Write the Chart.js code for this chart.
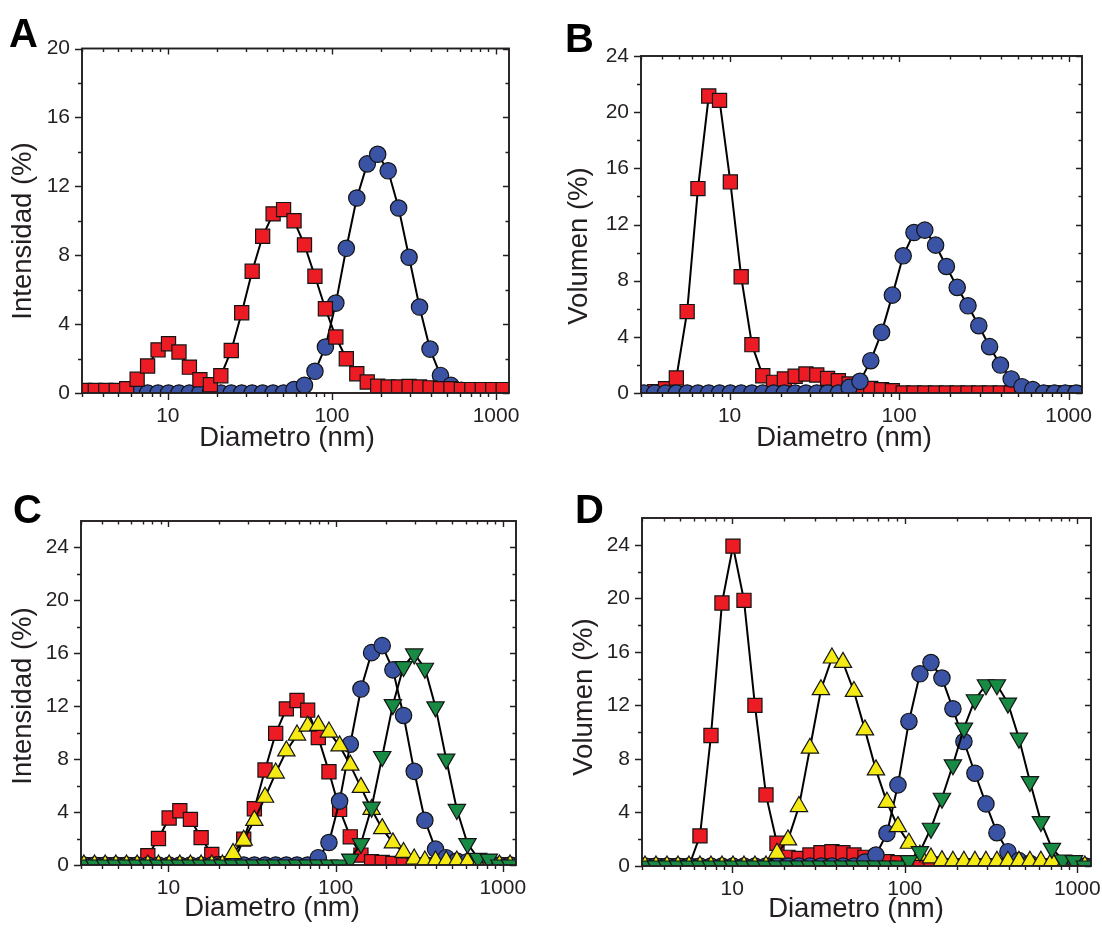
<!DOCTYPE html>
<html>
<head>
<meta charset="utf-8">
<title>Distribución de tamaño</title>
<script src="https://cdn.jsdelivr.net/npm/chart.js@4.4.1/dist/chart.umd.min.js"></script>
<style>
    html, body { margin: 0; padding: 0; background: #fff; overflow: hidden; }
    body { width: 1102px; height: 929px; position: relative; }
    canvas { position: absolute; }
</style>
</head>
<body>
<canvas id="chartA" width="551" height="465" style="left:0px;top:0px"></canvas>
<canvas id="chartB" width="571" height="465" style="left:551px;top:0px"></canvas>
<canvas id="chartC" width="551" height="464" style="left:0px;top:465px"></canvas>
<canvas id="chartD" width="571" height="464" style="left:551px;top:465px"></canvas>
<script>
// diametros de medida (nm)
const diameters = [3.122, 3.615, 4.187, 4.849, 5.615, 6.503, 7.531, 8.721, 10.10, 11.70,
    13.54, 15.69, 18.17, 21.04, 24.36, 28.21, 32.67, 37.84, 43.82, 50.75,
    58.77, 68.06, 78.82, 91.28, 105.7, 122.4, 141.8, 164.2, 190.1, 220.2,
    255.0, 295.3, 342.0, 396.1, 458.7, 531.2, 615.1, 712.4, 825.0, 955.4, 1106];

// A - intensidad
const intensityA_red = [0.15, 0.15, 0.15, 0.15, 0.25, 0.8, 1.57, 2.5, 2.86, 2.38,
    1.5, 0.77, 0.48, 1.0, 2.47, 4.66, 7.07, 9.1, 10.4, 10.65,
    10.0, 8.6, 6.78, 4.89, 3.25, 1.99, 1.12, 0.64, 0.4, 0.35,
    0.35, 0.38, 0.35, 0.3, 0.25, 0.25, 0.2, 0.2, 0.2, 0.2, 0.2];
const intensityA_blue = [0, 0, 0, 0, 0, 0, 0, 0, 0, 0,
    0, 0, 0, 0, 0, 0, 0, 0, 0, 0,
    0.2, 0.45, 1.26, 2.67, 5.22, 8.4, 11.32, 13.3, 13.86, 12.9,
    10.74, 7.88, 4.99, 2.55, 1.02, 0.44, 0.15, 0, 0, 0, 0];

// B - volumen
const volumeB_red = [0, 0.1, 0.3, 1.07, 5.8, 14.56, 21.15, 20.84, 15.03, 8.28,
    3.44, 1.23, 0.76, 1.0, 1.19, 1.35, 1.28, 1.04, 0.88, 0.64,
    0.47, 0.33, 0.24, 0.17, 0, 0, 0, 0, 0, 0,
    0, 0, 0, 0, 0, 0, 0, 0, 0, 0, 0];
const volumeB_blue = [0, 0, 0, 0, 0, 0, 0, 0, 0, 0,
    0, 0, 0, 0, 0, 0, 0, 0, 0, 0.4,
    0.83, 2.3, 4.32, 6.97, 9.77, 11.43, 11.6, 10.53, 9.01, 7.52,
    6.21, 4.79, 3.3, 1.99, 1.0, 0.45, 0.24, 0, 0, 0, 0];

// C - intensidad
const intensityC_red = [0, 0, 0, 0, 0, 0, 0.7, 2.0, 3.55, 4.1,
    3.45, 2.07, 0.8, 0.1, 0.1, 1.95, 4.25, 7.18, 9.95, 11.8,
    12.43, 11.7, 9.63, 7.05, 4.2, 2.13, 0.75, 0.25, 0.2, 0.12,
    0, 0, 0, 0, 0, 0, 0, 0, 0, 0, 0];
const intensityC_yellow = [0, 0, 0, 0, 0, 0, 0, 0, 0, 0,
    0, 0, 0, 0, 0.87, 1.87, 3.37, 5.12, 6.95, 8.62,
    9.82, 10.5, 10.55, 10.05, 9.0, 7.55, 5.87, 4.2, 2.75, 1.67,
    0.95, 0.45, 0.3, 0.3, 0.3, 0.3, 0.25, 0, 0, 0, 0];
const intensityC_blue = [0, 0, 0, 0, 0, 0, 0, 0, 0, 0,
    0, 0, 0, 0, 0, 0, 0, 0, 0, 0,
    0, 0, 0.55, 1.7, 4.83, 9.13, 13.3, 16.05, 16.58, 14.75,
    11.3, 7.08, 3.38, 1.2, 0.55, 0.3, 0.25, 0, 0, 0, 0];
const intensityC_green = [0, 0, 0, 0, 0, 0, 0, 0, 0, 0,
    0, 0, 0, 0, 0, 0, 0, 0, 0, 0,
    0, 0, 0, 0, 0, 0.45, 1.62, 4.37, 8.2, 12.12,
    15.0, 15.95, 14.87, 11.95, 8.0, 4.2, 1.62, 0.5, 0.45, 0, 0];

// D - volumen
const volumeD_red = [0, 0, 0, 0, 0, 2.25, 9.75, 19.65, 23.9, 19.85,
    12.0, 5.31, 1.7, 0.65, 0.57, 0.82, 1.0, 1.07, 1.0, 0.82,
    0.65, 0.45, 0.32, 0.25, 0.15, 0.15, 0.15, 0, 0, 0,
    0, 0, 0, 0, 0, 0, 0, 0, 0, 0, 0];
const volumeD_yellow = [0, 0, 0, 0, 0, 0, 0, 0, 0, 0,
    0, 0, 0.95, 1.95, 4.44, 8.8, 13.17, 15.54, 15.21, 13.04,
    10.17, 7.18, 4.76, 2.94, 1.7, 0.8, 0.6, 0.4, 0.35, 0.35,
    0.35, 0.35, 0.35, 0.35, 0.35, 0.35, 0.35, 0.35, 0, 0, 0];
const volumeD_blue = [0, 0, 0, 0, 0, 0, 0, 0, 0, 0,
    0, 0, 0, 0, 0, 0, 0, 0, 0, 0,
    0.3, 0.82, 2.44, 6.06, 10.8, 14.36, 15.2, 14.04, 11.75, 9.3,
    6.93, 4.64, 2.49, 1.07, 0.4, 0.2, 0, 0, 0, 0, 0];
const volumeD_green = [0, 0, 0, 0, 0, 0, 0, 0, 0, 0,
    0, 0, 0, 0, 0, 0, 0, 0, 0, 0,
    0, 0, 0, 0, 0.4, 1.07, 2.82, 5.06, 7.56, 10.3,
    12.42, 13.54, 13.54, 12.17, 9.55, 6.31, 3.32, 1.32, 0.45, 0.4, 0];

// ejes
const xMajorTicks = [10, 100, 1000];
const xTickLabels = ['10', '100', '1000'];
const xMinorTicks = [3, 4, 5, 6, 7, 8, 9, 20, 30, 40, 50, 60, 70, 80, 90,
    200, 300, 400, 500, 600, 700, 800, 900];
const yTicksA = [0, 4, 8, 12, 16, 20];
const yMinorA = [2, 6, 10, 14, 18];
const yTicksB = [0, 4, 8, 12, 16, 20, 24];
const yMinorB = [2, 6, 10, 14, 18, 22];

const inkColor = '#231f20';
const fontFamily = '"Liberation Sans", Arial, sans-serif';

const markerStyles = {
    square: { pointStyle: 'rect', radius: 10, rotation: 0, color: '#ed1c24' },
    circle: { pointStyle: 'circle', radius: 8.2, rotation: 0, color: '#3a53a4' },
    up: { pointStyle: 'triangle', radius: 10, rotation: 0, color: '#f5ea14' },
    down: { pointStyle: 'triangle', radius: 10, rotation: 180, color: '#178a43' }
};

const panels = [
    {
        id: 'chartA', letter: 'A', left: 0, top: 0, width: 551, height: 465,
        area: { left: 82, top: 48.5, right: 509, bottom: 393 },
        yMax: 20, yTicks: yTicksA, yMinor: yMinorA,
        yTitle: 'Intensidad (%)', yTitlePos: [23, 231], xTitlePos: [287, 438], letterPos: [9, 47],
        series: [
            { values: intensityA_red, marker: 'square', order: 0 },
            { values: intensityA_blue, marker: 'circle', order: 1 }
        ]
    },
    {
        id: 'chartB', letter: 'B', left: 551, top: 0, width: 571, height: 465,
        area: { left: 641, top: 56, right: 1082, bottom: 393 },
        yMax: 24, yTicks: yTicksB, yMinor: yMinorB,
        yTitle: 'Volumen (%)', yTitlePos: [579, 246], xTitlePos: [844, 438], letterPos: [565, 52],
        series: [
            { values: volumeB_red, marker: 'square', order: 1 },
            { values: volumeB_blue, marker: 'circle', order: 0 }
        ]
    },
    {
        id: 'chartC', letter: 'C', left: 0, top: 465, width: 551, height: 464,
        area: { left: 81, top: 521, right: 516, bottom: 865 },
        yMax: 26, yTicks: yTicksB, yMinor: yMinorB,
        yTitle: 'Intensidad (%)', yTitlePos: [23.5, 696], xTitlePos: [272, 908], letterPos: [13, 523],
        series: [
            { values: intensityC_red, marker: 'square', order: 3 },
            { values: intensityC_blue, marker: 'circle', order: 2 },
            { values: intensityC_yellow, marker: 'up', order: 1 },
            { values: intensityC_green, marker: 'down', order: 0 }
        ]
    },
    {
        id: 'chartD', letter: 'D', left: 551, top: 465, width: 571, height: 464,
        area: { left: 642, top: 518, right: 1091, bottom: 866 },
        yMax: 26, yTicks: yTicksB, yMinor: yMinorB,
        yTitle: 'Volumen (%)', yTitlePos: [584, 697], xTitlePos: [856, 909], letterPos: [575, 523],
        series: [
            { values: volumeD_red, marker: 'square', order: 3 },
            { values: volumeD_blue, marker: 'circle', order: 2 },
            { values: volumeD_yellow, marker: 'up', order: 1 },
            { values: volumeD_green, marker: 'down', order: 0 }
        ]
    }
];

// marco, marcas de ejes, titulos y letra del panel
const framePlugin = {
    id: 'frame',
    afterDatasetsDraw(chart, args, opts) {
        const ctx = chart.ctx;
        const area = chart.chartArea;
        const xScale = chart.scales.x;
        const yScale = chart.scales.y;

        ctx.save();
        ctx.strokeStyle = inkColor;
        ctx.lineWidth = 1.4;
        ctx.beginPath();

        const xTick = (value, outLen, inLen) => {
            const px = Math.round(xScale.getPixelForValue(value)) + 0.5;
            ctx.moveTo(px, area.bottom);
            ctx.lineTo(px, area.bottom + outLen);
            ctx.moveTo(px, area.top);
            ctx.lineTo(px, area.top + inLen);
        };
        const yTick = (value, outLen, inLen) => {
            const py = Math.round(yScale.getPixelForValue(value)) + 0.5;
            ctx.moveTo(area.left, py);
            ctx.lineTo(area.left - outLen, py);
            ctx.moveTo(area.right, py);
            ctx.lineTo(area.right - inLen, py);
        };

        xMajorTicks.forEach(v => xTick(v, 7, 6));
        xMinorTicks.forEach(v => xTick(v, 4, 3.5));
        opts.yTicks.forEach(v => yTick(v, 7, 6));
        opts.yMinor.forEach(v => yTick(v, 4, 3.5));
        ctx.stroke();

        ctx.lineWidth = 1.9;
        ctx.strokeRect(area.left, area.top, area.right - area.left, area.bottom - area.top);
        ctx.restore();
    },
    afterDraw(chart, args, opts) {
        const ctx = chart.ctx;

        ctx.save();
        ctx.fillStyle = inkColor;
        ctx.textAlign = 'center';
        ctx.textBaseline = 'middle';
        ctx.font = '27.5px ' + fontFamily;
        ctx.fillText('Diametro (nm)', opts.xTitlePos[0], opts.xTitlePos[1]);

        ctx.save();
        ctx.translate(opts.yTitlePos[0], opts.yTitlePos[1]);
        ctx.rotate(-Math.PI / 2);
        ctx.fillText(opts.yTitle, 0, 0);
        ctx.restore();

        ctx.fillStyle = '#000';
        ctx.textAlign = 'left';
        ctx.textBaseline = 'alphabetic';
        ctx.font = 'bold 40px ' + fontFamily;
        ctx.fillText(opts.letter, opts.letterPos[0], opts.letterPos[1]);
        ctx.restore();
    }
};

function buildDataset(serie) {
    const style = markerStyles[serie.marker];

    return {
        data: diameters.map((d, i) => ({ x: d, y: serie.values[i] })),
        showLine: true,
        borderColor: '#000',
        borderWidth: 2,
        tension: 0,
        pointStyle: style.pointStyle,
        pointRotation: style.rotation,
        pointRadius: style.radius,
        pointHoverRadius: style.radius,
        pointBackgroundColor: style.color,
        pointBorderColor: '#141414',
        pointBorderWidth: 1.2,
        clip: 0,
        order: serie.order
    };
}

function initPanel(panel) {
    const canvas = document.getElementById(panel.id);

    if (!canvas) {
        return;
    }

    // coordenadas de pagina -> coordenadas del lienzo
    const area = {
        left: panel.area.left - panel.left,
        top: panel.area.top - panel.top,
        right: panel.area.right - panel.left,
        bottom: panel.area.bottom - panel.top
    };
    const rel = (pos) => [pos[0] - panel.left, pos[1] - panel.top];

    new Chart(canvas.getContext('2d'), {
        type: 'scatter',
        data: {
            datasets: panel.series.map(buildDataset)
        },
        options: {
            responsive: false,
            animation: false,
            events: [],
            layout: {
                padding: { left: 0, top: area.top, right: panel.width - area.right, bottom: 0 }
            },
            plugins: {
                legend: { display: false },
                tooltip: { enabled: false },
                frame: {
                    letter: panel.letter,
                    letterPos: rel(panel.letterPos),
                    yTitle: panel.yTitle,
                    yTitlePos: rel(panel.yTitlePos),
                    xTitlePos: rel(panel.xTitlePos),
                    yTicks: panel.yTicks,
                    yMinor: panel.yMinor
                }
            },
            scales: {
                x: {
                    type: 'logarithmic',
                    min: 3,
                    max: 1200,
                    afterBuildTicks: (scale) => {
                        scale.ticks = xMajorTicks.map(v => ({ value: v }));
                    },
                    afterFit: (scale) => {
                        scale.height = panel.height - area.bottom;
                    },
                    grid: { display: true, drawOnChartArea: false, drawTicks: true, tickLength: 7, color: 'rgba(0,0,0,0)' },
                    border: { display: false },
                    ticks: {
                        autoSkip: false,
                        maxRotation: 0,
                        padding: 4,
                        color: inkColor,
                        font: { family: fontFamily, size: 21 },
                        callback: (value, index) => xTickLabels[index]
                    }
                },
                y: {
                    type: 'linear',
                    min: 0,
                    max: panel.yMax,
                    afterBuildTicks: (scale) => {
                        scale.ticks = panel.yTicks.map(v => ({ value: v }));
                    },
                    afterFit: (scale) => {
                        scale.width = area.left;
                    },
                    grid: { display: true, drawOnChartArea: false, drawTicks: true, tickLength: 7, color: 'rgba(0,0,0,0)' },
                    border: { display: false },
                    ticks: {
                        padding: 5,
                        color: inkColor,
                        font: { family: fontFamily, size: 21 },
                        callback: (value) => String(value)
                    }
                }
            }
        },
        plugins: [framePlugin]
    });
}

panels.forEach(initPanel);
</script>
</body>
</html>
